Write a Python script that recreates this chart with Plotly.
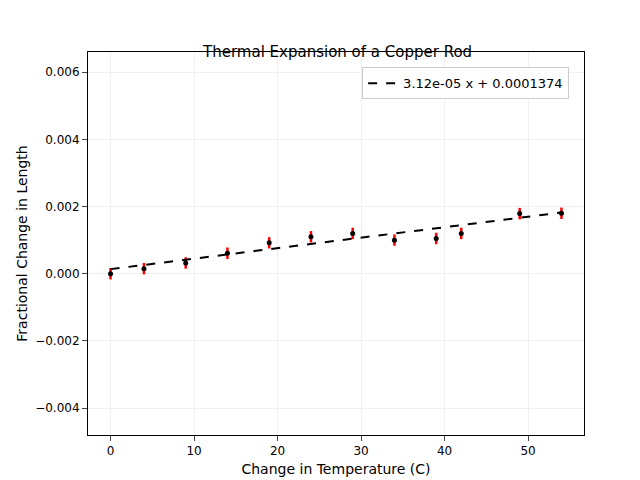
import plotly.graph_objects as go

temp_change = [0, 4, 9, 14, 19, 24, 29, 34, 39, 42, 49, 54]
frac_change = [0.0, 0.00015, 0.00032, 0.00061, 0.00092, 0.0011, 0.0012,
               0.001, 0.00105, 0.0012, 0.00179, 0.0018]
frac_err = [0.00017] * len(temp_change)
slope = 3.12e-05
intercept = 0.0001374

fit_x = [temp_change[0], temp_change[-1]]
fit_y = [slope * x + intercept for x in fit_x]

fig = go.Figure()
fig.add_trace(go.Scatter(
    x=temp_change, y=frac_change, mode="markers",
    marker=dict(color="black", size=5),
    error_y=dict(type="data", array=frac_err, color="red", thickness=2.5, width=0),
    showlegend=False))
fig.add_trace(go.Scatter(
    x=fit_x, y=fit_y, mode="lines",
    line=dict(color="black", dash="dash", width=2),
    name="3.12e-05 x + 0.0001374"))

axis = dict(showline=True, linecolor="black", mirror=True, ticks="outside",
            showgrid=True, gridcolor="#f0f0f0", zeroline=False, automargin=False,
            tickfont=dict(size=12, color="black"))
fig.update_layout(
    width=640, height=480,
    plot_bgcolor="white", paper_bgcolor="white",
    font=dict(family="DejaVu Sans", size=12, color="black"),
    title=dict(text="Thermal Expansion of a Copper Rod", x=0.515,
               y=1 - 44 / 480, yref="container", yanchor="middle",
               xanchor="center", font=dict(size=15)),
    margin=dict(l=80, r=64, t=44, b=53),
    xaxis=dict(axis, title=dict(text="Change in Temperature (C)", standoff=6),
               range=[-2.7, 56.7], tick0=0, dtick=10),
    yaxis=dict(axis, title=dict(text="Fractional Change in Length", standoff=4),
               range=[-0.0048, 0.0066], tick0=0, dtick=0.002, tickformat=".3f"),
    legend=dict(x=0.97, y=0.96, xanchor="right", yanchor="top",
                bordercolor="#cccccc", borderwidth=1, bgcolor="white",
                font=dict(size=13)),
)

fig.write_html("out.html")
